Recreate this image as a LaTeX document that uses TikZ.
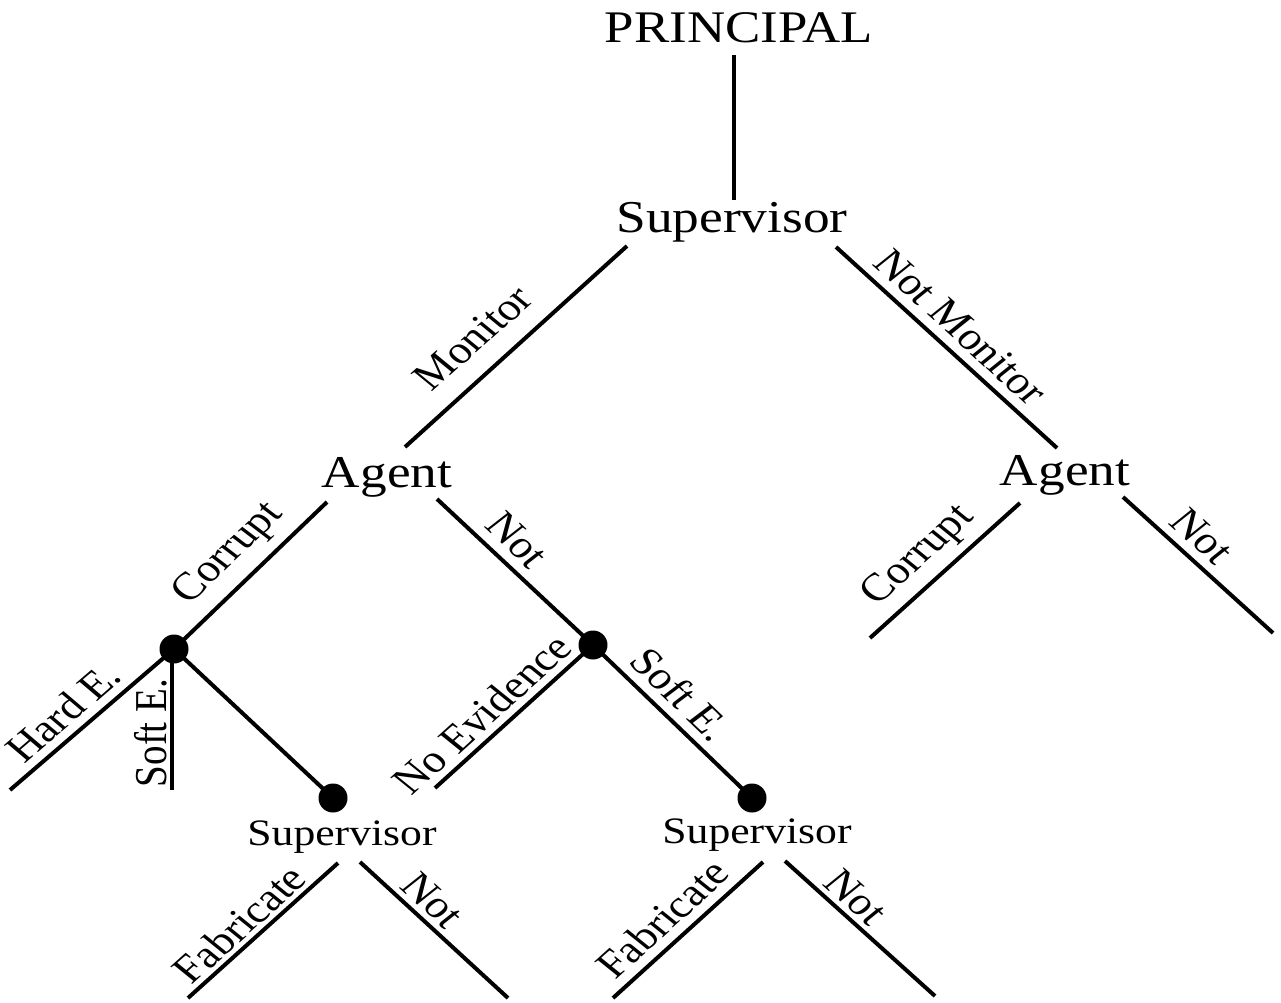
\documentclass[tikz,border=0pt]{standalone}
\usepackage{fontspec}
\setmainfont{Liberation Serif}
\begin{document}
\begin{tikzpicture}[x=1pt,y=-1pt,
  edge/.style={line width=4pt},
  dot/.style={circle,fill=black,inner sep=0pt,minimum size=29pt},
  big/.style={inner sep=0pt,anchor=base,xscale=1.17,font=\fontsize{45.5}{50}\selectfont},
  small/.style={inner sep=0pt,anchor=base,xscale=1.17,font=\fontsize{37.3}{42}\selectfont},
  lab/.style={inner sep=0pt,anchor=center,xscale=1.17,font=\fontsize{39}{44}\selectfont}]
\useasboundingbox (0,0) rectangle (1281,1002);
% main text nodes
\node[big,font=\fontsize{45.2}{50}\selectfont] (principal) at (739,42) {PRINCIPAL};
\node[big,font=\fontsize{45.6}{50}\selectfont] (sup) at (732,232) {Supervisor};
\node[big] (agL) at (387,487) {Agent};
\node[big] (agR) at (1065,485) {Agent};
\node[small] (supL) at (342,845) {Supervisor};
\node[small] (supR) at (757,843) {Supervisor};
% connector end points
\coordinate (pS) at (734,55);
\coordinate (sN) at (734,200);
\coordinate (sL) at (627,246);
\coordinate (sR) at (836,247);
\coordinate (aLN) at (405,447);
\coordinate (aRN) at (1057,448);
\coordinate (aLL) at (327,502);
\coordinate (aLR) at (437,499);
\coordinate (hardE) at (10,790);
\coordinate (softE) at (172,790);
\coordinate (noEv) at (435,788);
\coordinate (sLL) at (338,863);
\coordinate (fab1) at (188,998);
\coordinate (sLR) at (360,862);
\coordinate (not1) at (508,998);
\coordinate (sRL) at (763,862);
\coordinate (fab2) at (613,998);
\coordinate (sRR) at (785,861);
\coordinate (not2) at (935,996);
\coordinate (aRL) at (1020,503);
\coordinate (rcor) at (870,638);
\coordinate (aRR) at (1123,497);
\coordinate (rnot) at (1273,633);
% dot positions
\coordinate (p1) at (174,649);
\coordinate (p2) at (593,645);
\coordinate (p3) at (333,798);
\coordinate (p4) at (752,798);
% connectors
\draw[edge] (pS) -- (sN);
\draw[edge] (sL) -- (aLN);
\draw[edge] (sR) -- (aRN);
\draw[edge] (aLL) -- (p1);
\draw[edge] (aLR) -- (p2);
\draw[edge] (p1) -- (hardE);
\draw[edge] (p1 -| softE) -- (softE);
\draw[edge] (p1) -- (p3);
\draw[edge] (p2) -- (noEv);
\draw[edge] (p2) -- (p4);
\draw[edge] (sLL) -- (fab1);
\draw[edge] (sLR) -- (not1);
\draw[edge] (sRL) -- (fab2);
\draw[edge] (sRR) -- (not2);
\draw[edge] (aRL) -- (rcor);
\draw[edge] (aRR) -- (rnot);
% dots on top
\node[dot] (d1) at (p1) {};
\node[dot] (d2) at (p2) {};
\node[dot] (d3) at (p3) {};
\node[dot] (d4) at (p4) {};
% labels
\node[lab,rotate=46.2] (lMon) at (473,338) {Monitor};
\node[lab,rotate=-46.8] (lNMon) at (961,327) {Not Monitor};
\node[lab,rotate=48.3] (lCorL) at (229,554) {Corrupt};
\node[lab,rotate=-47.6] (lNotL) at (517,540) {Not};
\node[lab,rotate=45.2] (lHard) at (63,712) {Hard E.};
\node[lab,rotate=90] (lSoftV) at (151,733) {Soft E.};
\node[lab,rotate=46.6] (lNoEv) at (482,714) {No Evidence};
\node[lab,rotate=-48.4] (lSoftR) at (681,694) {Soft E.};
\node[lab,rotate=46.5] (lFab1) at (239,924) {Fabricate};
\node[lab,rotate=-47.1] (lNot1) at (433,900) {Not};
\node[lab,rotate=46.7] (lFab2) at (662,919) {Fabricate};
\node[lab,rotate=-46.5] (lNot2) at (856,897) {Not};
\node[lab,rotate=46.5] (lCorR) at (919,556) {Corrupt};
\node[lab,rotate=-46.7] (lNotR) at (1202,536) {Not};
\end{tikzpicture}
\end{document}
